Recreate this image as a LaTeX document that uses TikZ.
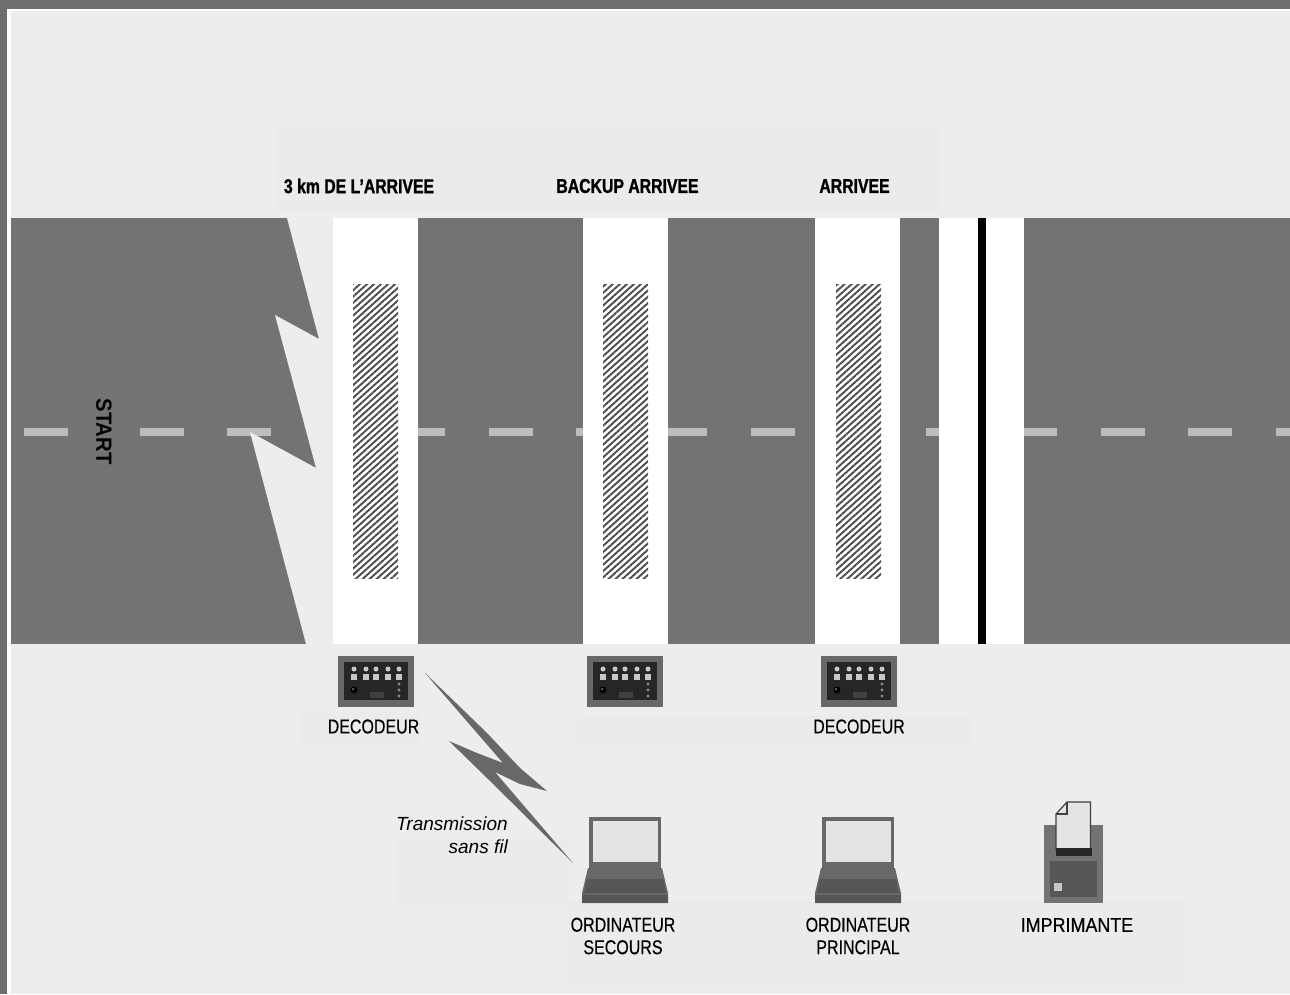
\documentclass[tikz,border=0pt]{standalone}
\usepackage{fontspec}
\usepackage{xcolor}
\usepackage{tikz}
\usetikzlibrary{patterns.meta}
\newfontfamily\plainfont[FakeStretch=0.8,FakeBold=0.3]{Liberation Sans}
\newfontfamily\titlefont[FakeStretch=0.79,FakeBold=1.2]{Liberation Sans Bold}
\newfontfamily\startfont[FakeStretch=0.92]{Liberation Sans Bold}
\newfontfamily\slantfont{Liberation Sans Italic}
\definecolor{roadgray}{HTML}{737373}
\definecolor{framegray}{HTML}{6F6F6F}
\definecolor{paper}{HTML}{EDEDED}
\definecolor{patch}{HTML}{EBEBEB}
\definecolor{dashgray}{HTML}{BDBDBD}
\definecolor{screengray}{HTML}{E4E4E4}
\definecolor{unitgray}{HTML}{686868}
\definecolor{panelgray}{HTML}{565656}
\definecolor{keygray}{HTML}{C8C8C8}
\tikzset{
    every node/.append style={inner sep=0pt, text=black},
    devicelabel/.style={font=\plainfont\fontsize{20}{22.5}\selectfont, align=center},
    postlabel/.style={font=\titlefont\fontsize{20}{22}\selectfont},
    hatchband/.style={pattern={Lines[angle=42,distance=4.7pt,line width=1.9pt]}, pattern color=black!70}
}

\begin{document}
\begin{tikzpicture}[x=1pt, y=-1pt]
    \useasboundingbox (0,0) rectangle (1290,994);
    % frame and background
    \fill[framegray] (0,0) rectangle (1290,994);
    \fill[white] (7,9) rectangle (1290,994);
    \fill[paper] (10.5,11) rectangle (1290,994);
    \fill[patch] (275,128) rectangle (940,212);
    \fill[patch] (300,712) rectangle (420,743);
    \fill[patch] (577,715) rectangle (972,750);
    \fill[patch] (397,838) rectangle (567,905);
    \fill[patch] (567,901) rectangle (1190,985);
    % road with centre line
    \fill[roadgray] (10.5,218) rectangle (1290,644);
    \fill[dashgray] (24,428) rectangle (68,436);
    \foreach \dashx in {140,227,314,401,489,576,663,751,838,926,1013,1101,1188,1276} {
        \fill[dashgray] (\dashx,428) rectangle ({min(\dashx+44,1290)},436);
    }
    % torn part of the road
    \fill[paper] (287,218) -- (319,339) -- (275,315) -- (316,468) -- (250,432) -- (306,644) -- (333,644) -- (333,218) -- cycle;
    % white bands
    \foreach \bandx in {333,583,815} {
        \fill[white] (\bandx,218) rectangle ++(85,426);
    }
    \fill[white] (939,218) rectangle (1024,644);
    \fill[black] (977.5,218) rectangle (985.5,644);
    % hatched mats
    \foreach \matx in {353,603,836} {
        \fill[hatchband] (\matx,284) rectangle ++(45,294);
    }
    % decoders
    \foreach \boxx in {338,587,821} {
        \begin{scope}[shift={(\boxx,656)}]
            \fill[unitgray] (0,0) rectangle (76,51);
            \fill[black!85] (6,6) rectangle (70,44);
            \foreach \keyx in {16,28,38,50,61} {
                \fill[keygray] (\keyx,13) circle (2.5);
                \fill[keygray] (\keyx-3,18) rectangle ++(6,5.5);
            }
            \foreach \ledy in {28,34,40} {
                \fill[black!45] (61,\ledy) circle (1.6);
            }
            \fill[black] (16,34) circle (3.5);
            \fill[black!40] (15,33) circle (1);
            \fill[black!75] (32,36) rectangle ++(14,6);
        \end{scope}
    }
    % laptops
    \foreach \lapx in {582,815} {
        \begin{scope}[shift={(\lapx,817)}]
            \fill[unitgray] (7,0) rectangle (79,51);
            \fill[screengray] (10.5,4) rectangle (75.5,45);
            \fill[unitgray] (6,51) -- (80,51) -- (86,76) -- (86,86) -- (0,86) -- (0,76) -- cycle;
            \fill[panelgray] (5,62) -- (81,62) -- (84,76) -- (2,76) -- cycle;
            \fill[panelgray] (0,78) rectangle (86,86);
        \end{scope}
    }
    % printer
    \fill[roadgray] (1044,825) rectangle (1103,903);
    \fill[panelgray] (1050,861) rectangle (1097,897);
    \fill[keygray] (1053.5,883) rectangle ++(8,8);
    \fill[screengray, draw=black!75, line width=1.2pt] (1067,802) -- (1090.5,802) -- (1090.5,850) -- (1056,850) -- (1056,814) -- cycle;
    \draw[black!75, line width=1.2pt] (1067,802) -- (1067,814) -- (1056,814);
    \fill[black!85] (1055.5,848) rectangle (1091.5,856);
    % wireless link
    \fill[unitgray] (425,673) -- (487,733) -- (520,768) -- (547,791) -- (520,784) -- (495,772) -- (513,793) -- (573,863) -- (487,778) -- (449,741) -- (477,753) -- (503,763) -- (477,733) -- cycle;
    % labels
    \node[postlabel] (post3km) at (359,186) {3 km DE L’ARRIVEE};
    \node[postlabel] (postbackup) at (627.5,186) {BACKUP ARRIVEE};
    \node[postlabel] (postfinish) at (854.5,186) {ARRIVEE};
    \node[rotate=-90, font=\startfont\fontsize{22}{24}\selectfont] (startlabel) at (104,431.5) {START};
    \node[devicelabel] (decoder3km) at (373.5,726.5) {DECODEUR};
    \node[devicelabel] (decoderfinish) at (859,726.5) {DECODEUR};
    \node[font=\slantfont\fontsize{19}{23}\selectfont, align=right, anchor=east] (linklabel) at (508,835) {Transmission\\sans fil};
    \node[devicelabel] (backuppc) at (623,936) {ORDINATEUR\\SECOURS};
    \node[devicelabel] (mainpc) at (858,936) {ORDINATEUR\\PRINCIPAL};
    \node[devicelabel, xscale=1.12, transform shape] (printer) at (1077,925) {IMPRIMANTE};
\end{tikzpicture}
\end{document}
